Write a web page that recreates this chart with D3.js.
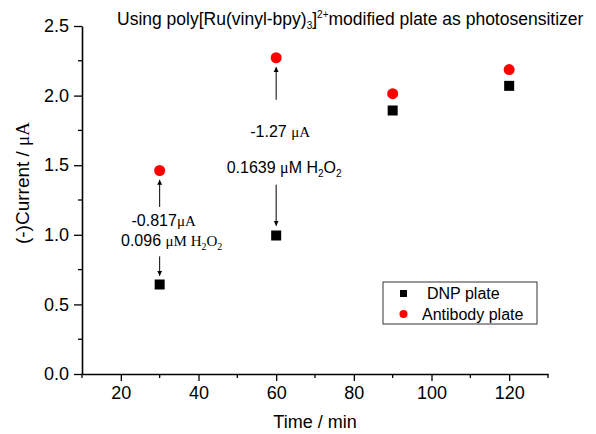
<!DOCTYPE html>
<html><head><meta charset="utf-8">
<script src="https://cdn.jsdelivr.net/npm/d3@7"></script>
<style>
body{margin:0;background:#fff;}
text{font-family:Arial,"Liberation Sans",sans-serif;}
</style></head>
<body><svg id="c" width="596" height="434"></svg>
<script>
const times = [30, 60, 90, 120];
const dnpPlate = [0.643, 0.995, 1.893, 2.07];
const antibodyPlate = [1.462, 2.272, 2.014, 2.187];
const xTicks = [20, 40, 60, 80, 100, 120];
const yTicks = [0.0, 0.5, 1.0, 1.5, 2.0, 2.5];
const seriesNames = ["DNP plate", "Antibody plate"];
const seriesColors = ["#000000", "#ff0000"];

const svg = d3.select("#c");
const x = d3.scaleLinear().domain([10, 130]).range([82, 548]);
const y = d3.scaleLinear().domain([0, 2.5]).range([374, 26]);

// axes
const xAxis = d3.axisBottom(x).tickValues(xTicks).tickSize(7).tickSizeOuter(0).tickPadding(5).tickFormat(d3.format("d"));
const gx = svg.append("g").attr("transform", `translate(0,${y(0)})`).call(xAxis);
gx.append("g").selectAll("line").data(d3.range(10, 131, 20)).join("line")
  .attr("x1", d => x(d)).attr("x2", d => x(d)).attr("y1", 0).attr("y2", 4).attr("stroke", "#000").attr("stroke-width", 1.3);
const yAxis = d3.axisLeft(y).tickValues(yTicks).tickSize(8).tickSizeOuter(0).tickPadding(5).tickFormat(d3.format(".1f"));
const gy = svg.append("g").attr("transform", `translate(${x(10)},0)`).call(yAxis);
gy.append("g").selectAll("line").data(d3.range(0.25, 2.5, 0.5)).join("line")
  .attr("y1", d => y(d)).attr("y2", d => y(d)).attr("x1", 0).attr("x2", -4).attr("stroke", "#000").attr("stroke-width", 1.3);
[gx, gy].forEach(g => {
  g.select(".domain").attr("stroke-width", 1.6);
  g.selectAll(".tick line").attr("stroke-width", 1.3);
  g.selectAll(".tick text").attr("font-size", 18).attr("font-family", "Arial, 'Liberation Sans', sans-serif").attr("fill", "#000");
});

// axis titles
svg.append("text").attr("x", (x(10) + x(130)) / 2).attr("y", 428).attr("text-anchor", "middle")
  .attr("font-size", 18).text("Time / min");
const yl = svg.append("text").attr("transform", `translate(29,183) rotate(-90)`)
  .attr("text-anchor", "middle").attr("font-size", 19);
yl.append("tspan").text("(-)Current / ");
yl.append("tspan").attr("font-family", "'Liberation Serif', 'Times New Roman', serif").text("μA");

// title
const tt = svg.append("text").attr("x", 117).attr("y", 25).attr("font-size", 17.5);
tt.append("tspan").text("Using poly[Ru(vinyl-bpy)");
tt.append("tspan").attr("font-size", 10).attr("dy", 4).text("3");
tt.append("tspan").attr("dy", -4).text("]");
tt.append("tspan").attr("font-size", 10).attr("dy", -7).text("2+");
tt.append("tspan").attr("dy", 7).text("modified plate as photosensitizer");

// arrows
const defs = svg.append("defs");
defs.append("marker").attr("id", "ah").attr("viewBox", "0 0 10 10").attr("refX", 10).attr("refY", 5)
  .attr("markerWidth", 5).attr("markerHeight", 8).attr("markerUnits", "userSpaceOnUse").attr("orient", "auto")
  .append("path").attr("d", "M0,0L10,5L0,10Z").attr("fill", "#000");
const arrows = [
  {t: 30, v0: 1.20, v1: 1.395},
  {t: 30, v0: 0.845, v1: 0.705},
  {t: 60, v0: 1.97, v1: 2.205},
  {t: 60, v0: 1.36, v1: 1.065}
];
svg.append("g").selectAll("line").data(arrows).join("line")
  .attr("x1", d => x(d.t)).attr("x2", d => x(d.t)).attr("y1", d => y(d.v0)).attr("y2", d => y(d.v1))
  .attr("stroke", "#000").attr("stroke-width", 1).attr("marker-end", "url(#ah)");

const serif = "'Liberation Serif', 'Times New Roman', serif";
function label(xp, yp, parts) {
  const t = svg.append("text").attr("x", xp).attr("y", yp).attr("text-anchor", "middle").attr("font-size", 16);
  parts.forEach(p => {
    const s = t.append("tspan").text(p.s);
    if (p.serif) s.attr("font-family", serif);
    if (p.fs) s.attr("font-size", p.fs);
    if (p.dy) s.attr("dy", p.dy);
  });
}
label(x(30) + 4, 226, [{s: "-0.817"}, {s: "μA", serif: true, fs: 15}]);
label(x(30) + 12, 246, [{s: "0.096 "}, {s: "μM H", serif: true, fs: 15}, {s: "2", serif: true, fs: 10, dy: 4}, {s: "O", serif: true, fs: 15, dy: -4}, {s: "2", serif: true, fs: 10, dy: 4}]);
label(x(60) + 4, 137, [{s: "-1.27 "}, {s: "μA", serif: true, fs: 15}]);
label(x(60) + 8, 173, [{s: "0.1639 "}, {s: "μ", serif: true}, {s: "M H"}, {s: "2", fs: 10, dy: 4}, {s: "O", dy: -4}, {s: "2", fs: 10, dy: 4}]);

// points
const sq = 10;
svg.append("g").selectAll("rect").data(times.map((t, i) => [t, dnpPlate[i]])).join("rect")
  .attr("x", d => x(d[0]) - sq / 2).attr("y", d => y(d[1]) - sq / 2).attr("width", sq).attr("height", sq)
  .attr("fill", seriesColors[0]);
svg.append("g").selectAll("circle").data(times.map((t, i) => [t, antibodyPlate[i]])).join("circle")
  .attr("cx", d => x(d[0])).attr("cy", d => y(d[1])).attr("r", 5.5).attr("fill", seriesColors[1]);

// legend
const lg = svg.append("g");
lg.append("rect").attr("x", 383).attr("y", 282).attr("width", 154).attr("height", 42)
  .attr("fill", "none").attr("stroke", "#333").attr("stroke-width", 1);
lg.append("rect").attr("x", 400).attr("y", 290).attr("width", 7).attr("height", 7).attr("fill", seriesColors[0]);
lg.append("circle").attr("cx", 403.5).attr("cy", 314).attr("r", 4).attr("fill", seriesColors[1]);
lg.selectAll("text.lt").data(seriesNames).join("text").attr("class", "lt")
  .attr("x", (d, i) => i === 0 ? 427 : 422).attr("y", (d, i) => 299 + i * 21).attr("font-size", 16).text(d => d);
</script></body></html>
